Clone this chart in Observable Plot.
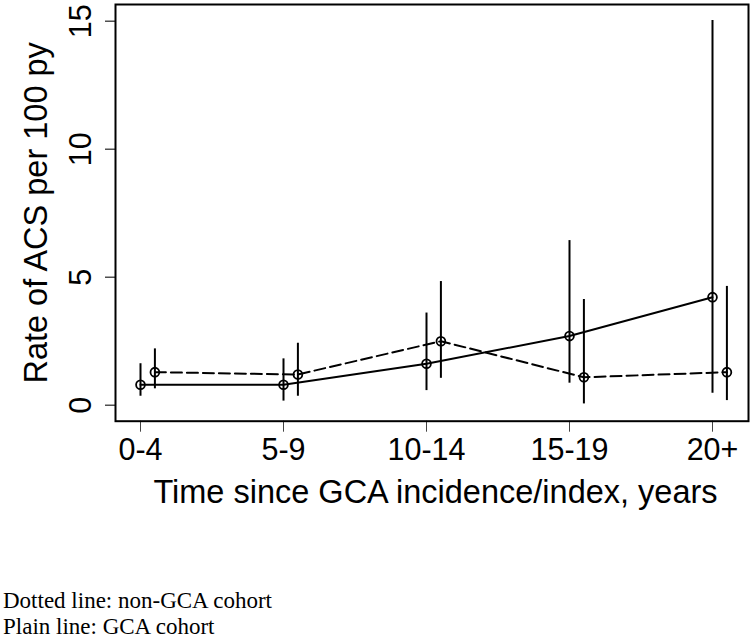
<!DOCTYPE html>
<html>
<head>
<meta charset="utf-8">
<script src="https://cdn.jsdelivr.net/npm/d3@7"></script>
<script src="https://cdn.jsdelivr.net/npm/@observablehq/plot@0.6"></script>
<style>
  body { margin: 0; background: #fff; }
  #chart svg { display: block; }
  #caption {
    font-family: "Liberation Serif", "Times New Roman", Times, serif;
    font-size: 23px;
    line-height: 25.5px;
    padding-left: 3px;
    margin-top: -1px;
    color: #000;
  }
</style>
</head>
<body>
<div id="chart"></div>
<div id="caption">
  <div>Dotted line: non-GCA cohort</div>
  <div>Plain line: GCA cohort</div>
</div>
<script>
// ---- Data ----
const categories = ["0-4", "5-9", "10-14", "15-19", "20+"];
const yTicks = [0, 5, 10, 15];

// GCA cohort (plain line)
const gcaRate = [0.80, 0.80, 1.62, 2.70, 4.22];
const gcaLow  = [0.35, 0.16, 0.57, 0.86, 0.47];
const gcaHigh = [1.62, 1.81, 3.60, 6.43, 15.03];

// non-GCA cohort (dashed line)
const nonRate = [1.29, 1.20, 2.50, 1.09, 1.29];
const nonLow  = [0.64, 0.35, 1.05, 0.05, 0.18];
const nonHigh = [2.20, 2.42, 4.83, 4.13, 4.64];

const yTitle = "Rate of ACS per 100 py";
const xTitle = "Time since GCA incidence/index, years";

// ---- Build tables ----
const gca = categories.map((c, i) => ({cat: c, rate: gcaRate[i], low: gcaLow[i], high: gcaHigh[i]}));
const non = categories.map((c, i) => ({cat: c, rate: nonRate[i], low: nonLow[i], high: nonHigh[i]}));

const nonOffset = 14.4; // horizontal dodge of the non-GCA series, px

const chart = Plot.plot({
  width: 756,
  height: 589,
  marginLeft: 115,
  marginRight: 8,
  marginTop: 4,
  marginBottom: 168.3,
  x: {type: "point", domain: categories, range: [139, 713.5], padding: 0},
  y: {domain: [-0.625, 15.652]},
  style: {
    fontFamily: "'Liberation Sans', Arial, Helvetica, sans-serif",
    fontSize: "30.5px",
    background: "white",
    color: "black"
  },
  marks: [
    Plot.axisX({tickSize: 11, tickPadding: 6.6, fontSize: 30.5, stroke: "#444", strokeWidth: 1, label: null}),
    Plot.axisY({ticks: yTicks, tickSize: 10, tickPadding: 15, tickRotate: -90, fontSize: 30.5, stroke: "#222", strokeWidth: 1.2, label: null}),
    Plot.ruleX(gca, {x: "cat", y1: "low", y2: "high", stroke: "black", strokeWidth: 2}),
    Plot.ruleX(non, {x: "cat", y1: "low", y2: "high", dx: nonOffset, stroke: "black", strokeWidth: 2}),
    Plot.line(gca, {x: "cat", y: "rate", stroke: "black", strokeWidth: 2}),
    Plot.line(non, {x: "cat", y: "rate", dx: nonOffset, stroke: "black", strokeWidth: 2, strokeDasharray: "11,5"}),
    Plot.dot(gca, {x: "cat", y: "rate", r: 4.4, stroke: "black", strokeWidth: 1.8, fill: "none"}),
    Plot.dot(non, {x: "cat", y: "rate", r: 4.4, dx: nonOffset, stroke: "black", strokeWidth: 1.8, fill: "none"}),
    Plot.frame({stroke: "black", strokeWidth: 2}),
    Plot.text([yTitle], {text: d => d, frameAnchor: "left", dx: -68.3, rotate: -90, lineAnchor: "bottom", textAnchor: "middle", fontSize: 32.5, fill: "black"}),
    Plot.text([xTitle], {text: d => d, frameAnchor: "bottom", dx: 3.5, dy: 82, lineAnchor: "bottom", textAnchor: "middle", fontSize: 32.5, fill: "black"})
  ]
});
document.getElementById("chart").appendChild(chart);
</script>
</body>
</html>
